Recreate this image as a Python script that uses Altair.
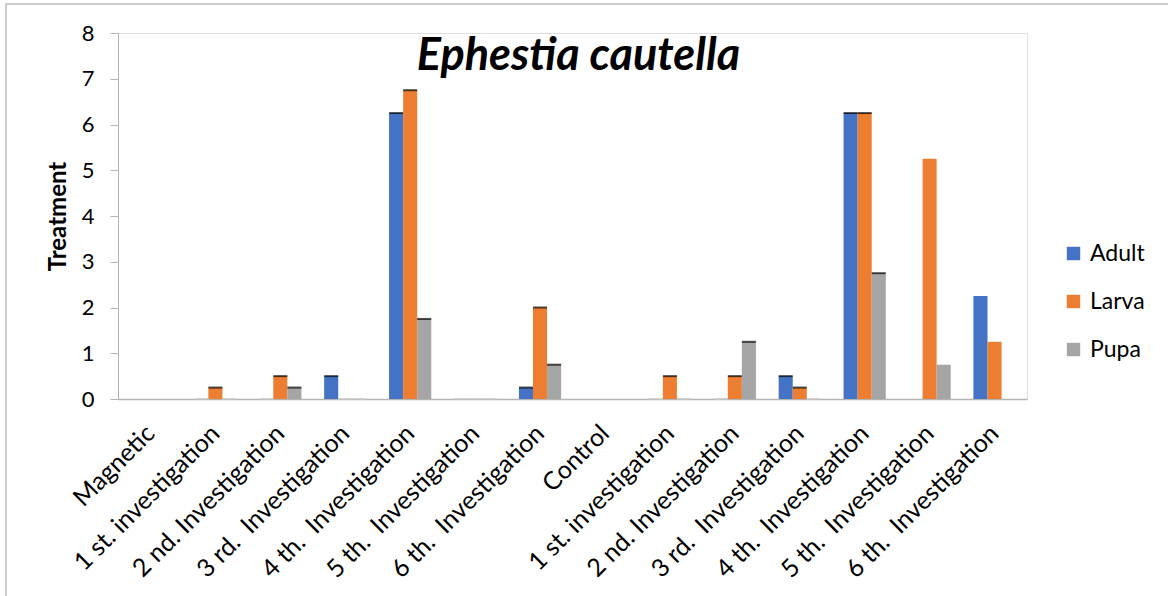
import json
import altair as alt
import pandas as pd

categories = [
    "Magnetic",
    "1 st. investigation",
    "2 nd. Investigation",
    "3 rd.\u00a0 Investigation",
    "4 th.\u00a0 Investigation",
    "5 th.\u00a0 Investigation",
    "6 th.\u00a0 Investigation",
    "Control",
    "1 st. investigation",
    "2 nd. Investigation",
    "3 rd.\u00a0 Investigation",
    "4 th.\u00a0 Investigation",
    "5 th.\u00a0 Investigation",
    "6 th.\u00a0 Investigation",
]
series = ["Adult", "Larva", "Pupa"]
adult = [0, 0, 0, 0.5, 6.25, 0, 0.25, 0, 0, 0, 0.5, 6.25, 0, 2.25]
larva = [0, 0.25, 0.5, 0, 6.75, 0, 2.0, 0, 0.5, 0.5, 0.25, 6.25, 5.25, 1.25]
pupa = [0, 0, 0.25, 0, 1.75, 0, 0.75, 0, 0, 1.25, 0, 2.75, 0.75, 0]
has_cap = [False, True, True, True, True, True, True, False, True, True, True, True, False, False]
colors = ["#4472C4", "#ED7D31", "#A5A5A5"]

rows = []
for i in range(len(categories)):
    for s, vals in zip(series, [adult, larva, pupa]):
        rows.append({"idx": i, "stage": s, "value": vals[i], "cap": has_cap[i]})
df = pd.DataFrame(rows)

FONT = "Lato"
label_expr = json.dumps(categories, ensure_ascii=False) + "[datum.value]"

x_enc = alt.X(
    "idx:O",
    scale=alt.Scale(paddingInner=0.35, paddingOuter=0.175),
    axis=alt.Axis(
        title=None,
        labelExpr=label_expr,
        labelAngle=-45,
        labelAlign="right",
        labelBaseline="middle",
        labelFontSize=25,
        labelFont=FONT,
        labelColor="#000000",
        labelPadding=30,
        labelLimit=500,
        ticks=False,
        domainColor="#B4B4B4",
        domainWidth=1.5,
        labelOverlap=False,
    ),
)
y_enc = alt.Y(
    "value:Q",
    scale=alt.Scale(domain=[0, 8]),
    axis=alt.Axis(
        title="Treatment",
        titleFontSize=24,
        titleFont=FONT,
        titleFontWeight="bold",
        titleColor="#000000",
        titlePadding=11,
        values=list(range(0, 9)),
        labelFontSize=22,
        labelFont=FONT,
        labelColor="#000000",
        labelPadding=16,
        tickSize=8,
        tickColor="#B4B4B4",
        domainColor="#B4B4B4",
        grid=False,
    ),
)
xoff = alt.XOffset("stage:N", sort=series)

base = alt.Chart(df)

bars = base.mark_bar().encode(
    x=x_enc,
    xOffset=xoff,
    y=y_enc,
    color=alt.Color(
        "stage:N",
        sort=series,
        scale=alt.Scale(domain=series, range=colors),
        legend=alt.Legend(
            title=None,
            orient="none",
            legendX=944,
            legendY=209,
            symbolType="square",
            symbolSize=180,
            symbolStrokeWidth=0,
            labelFontSize=23,
            labelFont=FONT,
            labelColor="#000000",
            rowPadding=24,
            labelOffset=5,
        ),
    ),
)

caps_black = base.mark_tick(color="#000000", size=14, thickness=2).encode(
    x=alt.X("idx:O"), xOffset=xoff, y=alt.Y("value:Q")
).transform_filter("datum.cap && datum.value > 0")

caps_gray = base.mark_tick(color="#C8C8C8", size=14, thickness=2).encode(
    x=alt.X("idx:O"), xOffset=xoff, y=alt.Y("value:Q")
).transform_filter("datum.cap && datum.value == 0")

border = alt.Chart(alt.Data(values=[{"a": 1}])).mark_rect(
    fill=None, stroke="#BDBDBD", strokeWidth=1.5
).encode(
    x=alt.value(-112), x2=alt.value(1100), y=alt.value(-29), y2=alt.value(700)
)

chart = alt.layer(border, bars, caps_black, caps_gray).properties(
    width=909,
    height=366,
    padding={"left": 118, "top": 33, "right": 141, "bottom": 197},
    autosize=alt.AutoSizeParams(type="none"),
    title=alt.TitleParams(
        text="Ephestia cautella",
        font=FONT,
        fontSize=45,
        fontStyle="italic",
        fontWeight="bold",
        color="#000000",
        anchor="middle",
        dx=6,
        dy=80,
    ),
).configure_view(stroke=None).configure(background="white")

chart.save("out.html", embed_options={"renderer": "svg", "actions": False})
